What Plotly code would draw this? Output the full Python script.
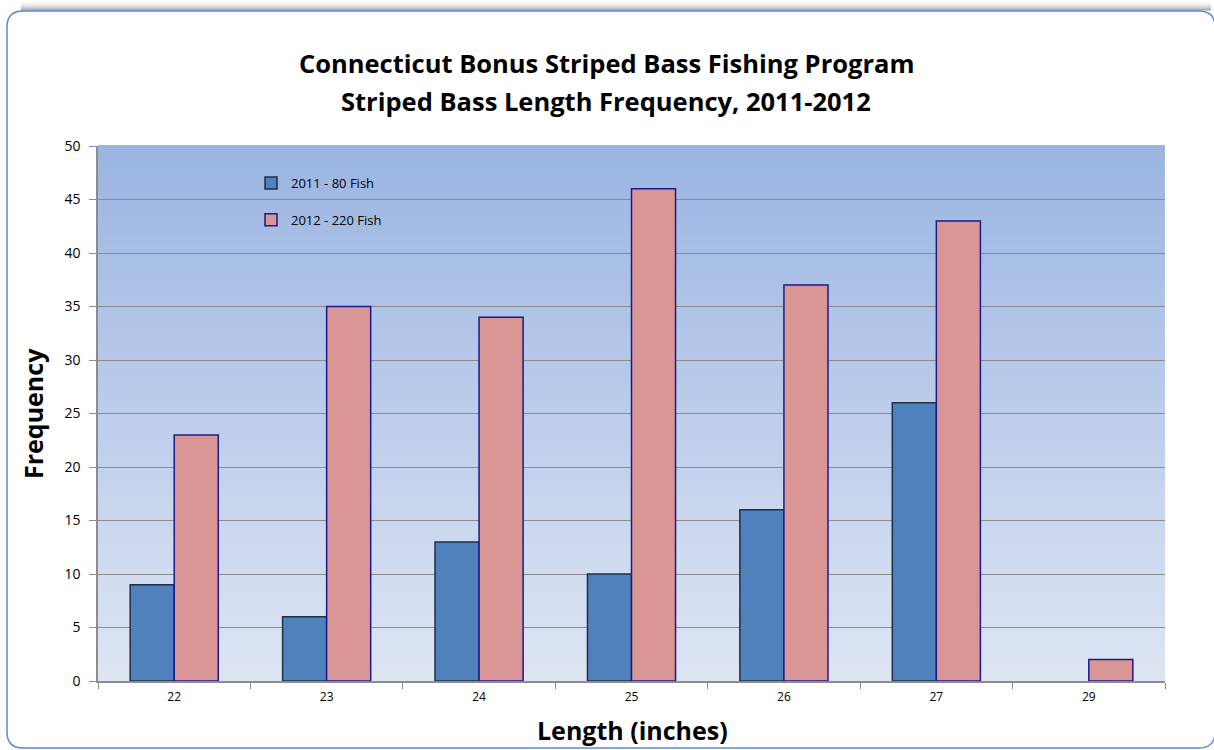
import plotly.graph_objects as go

lengths = ["22", "23", "24", "25", "26", "27", "29"]
fish_2011 = [9, 6, 13, 10, 16, 26, 0]
fish_2012 = [23, 35, 34, 46, 37, 43, 2]
series_names = ["2011 - 80 Fish", "2012 - 220 Fish"]
y_ticks = [0, 5, 10, 15, 20, 25, 30, 35, 40, 45, 50]
title_lines = ["Connecticut Bonus Striped Bass Fishing Program",
               "Striped Bass Length Frequency, 2011-2012"]
x_title = "Length (inches)"
y_title = "Frequency"

W, H = 1214, 750
ML, MR, MT, MB = 98, 49, 146, 69
PW, PH = W - ML - MR, H - MT - MB

def px(x):
    return (x - ML) / PW

def py(y):
    return (H - MB - y) / PH

FONT = "'Open Sans', Lato, sans-serif"

fig = go.Figure()
fig.add_trace(go.Bar(x=lengths, y=fish_2011, name=series_names[0], legendgroup="a",
                     marker=dict(color="#4F81BD",
                                 line=dict(color="#1F2F45", width=[1.5 if v else 0 for v in fish_2011]))))
fig.add_trace(go.Bar(x=lengths, y=fish_2012, name=series_names[1], legendgroup="b",
                     marker=dict(color="#D99694",
                                 line=dict(color="#1A1A8C", width=[1.5 if v else 0 for v in fish_2012]))))

shapes = []

# outer rounded frame (drawn first, lowest)
L, T, R, B, r = 7, 11, 1215, 748, 16
path = (f"M {px(L)},{py(T + r)} Q {px(L)},{py(T)} {px(L + r)},{py(T)} "
        f"L {px(R - r)},{py(T)} Q {px(R)},{py(T)} {px(R)},{py(T + r)} "
        f"L {px(R)},{py(B - r)} Q {px(R)},{py(B)} {px(R - r)},{py(B)} "
        f"L {px(L + r)},{py(B)} Q {px(L)},{py(B)} {px(L)},{py(B - r)} Z")
# shadow above the frame
for k, a in enumerate([0.03, 0.05, 0.08, 0.12, 0.17, 0.23, 0.3, 0.38]):
    off = 8 - k
    shapes.append(dict(type="path", xref="paper", yref="paper",
                       path=(f"M {px(L + r - 2)},{py(T - off)} L {px(R - 4)},{py(T - off)}"),
                       line=dict(color=f"rgba(0,0,0,{a})", width=1.2), layer="below"))
shapes.append(dict(type="path", xref="paper", yref="paper", path=path,
                   line=dict(color="#5B8BD0", width=1.5), fillcolor="white", layer="below"))

# gradient background of plot area
n = 60
top = (155, 181, 226)
bot = (221, 229, 243)
for i in range(n):
    t = i / (n - 1)
    c = tuple(round(bot[k] + (top[k] - bot[k]) * t) for k in range(3))
    shapes.append(dict(type="rect", xref="x domain", yref="y domain",
                       x0=0, x1=1, y0=i / n, y1=(i + 1) / n + 0.002,
                       fillcolor="rgb(%d,%d,%d)" % c, line=dict(width=0), layer="below"))
fig.update_layout(shapes=shapes)

annotations = [
    dict(text=f"<b>{title_lines[0]}</b>", xref="paper", yref="paper", x=px(606), y=py(63),
         xanchor="center", yanchor="middle", showarrow=False, font=dict(size=25.5, family=FONT)),
    dict(text=f"<b>{title_lines[1]}</b>", xref="paper", yref="paper", x=px(606), y=py(101),
         xanchor="center", yanchor="middle", showarrow=False, font=dict(size=25.5, family=FONT)),
    dict(text=f"<b>{x_title}</b>", xref="paper", yref="paper", x=px(632), y=py(730),
         xanchor="center", yanchor="middle", showarrow=False, font=dict(size=25, family=FONT)),
    dict(text=f"<b>{y_title}</b>", xref="paper", yref="paper", x=px(33), y=py(414),
         xanchor="center", yanchor="middle", showarrow=False, textangle=-90,
         font=dict(size=25, family=FONT)),
]

fig.update_layout(
    width=W, height=H,
    margin=dict(l=ML, r=MR, t=MT, b=MB),
    paper_bgcolor="rgba(0,0,0,0)",
    plot_bgcolor="rgba(0,0,0,0)",
    font=dict(family=FONT, color="black"),
    barmode="group", bargap=0.422, bargroupgap=0,
    annotations=annotations,
    legend=dict(x=px(251), y=py(168), xanchor="left", yanchor="top",
                bgcolor="rgba(0,0,0,0)", font=dict(size=13, family=FONT),
                tracegroupgap=17, itemwidth=30),
    showlegend=True,
    xaxis=dict(type="category", showgrid=False, ticks="outside", ticklen=6,
               tickcolor="#8C8C8C", tickson="boundaries", showline=True,
               linecolor="#8C8C8C", linewidth=1.5, mirror=False,
               tickfont=dict(size=12), ticklabelstandoff=4),
    yaxis=dict(range=[0, 50], tickvals=y_ticks, showgrid=True, gridcolor="#8C8C8C",
               gridwidth=1, ticks="outside", ticklen=7, tickcolor="#8C8C8C",
               showline=True, linecolor="#8C8C8C", linewidth=1.5, zeroline=False,
               tickfont=dict(size=14), ticklabelstandoff=6),
)

fig.write_html("out.html", config={"displayModeBar": False},
               post_script="document.body.style.margin='0';document.body.style.overflow='hidden';")
